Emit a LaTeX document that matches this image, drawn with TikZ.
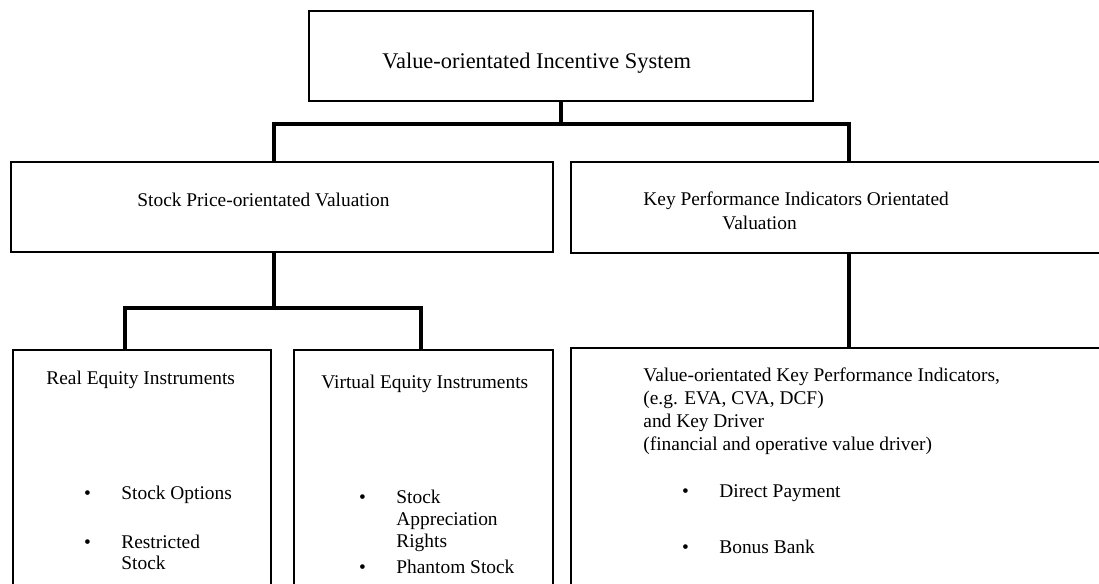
\documentclass[tikz,border=0pt]{standalone}
\usepackage{fontspec}
\setmainfont{Liberation Serif}
\usetikzlibrary{fit}
\newcommand{\bul}{\makebox[18.7pt][l]{\textbullet}}

\begin{document}
\begin{tikzpicture}[x=0.5pt,y=0.5pt]
  \tikzstyle{every node}+=[inner sep=0pt]
  \tikzstyle{box}=[draw=black, line width=0.8pt]
  \tikzstyle{conn}=[black, line width=1.6pt]
  \tikzstyle{txt}=[anchor=west, align=left, font=\fontsize{9.7}{11.5}\selectfont]
  \clip (0,0) rectangle (1099,-584);
  \node [box, fit={(309,-11) (813,-101)}] (vis) {};
  \node [txt, font=\fontsize{11.2}{13}\selectfont] (vistext) at (382,-63) {Value-orientated Incentive System};
  \node [box, fit={(11,-162) (553,-252)}] (spv) {};
  \node [txt] (spvtext) at (137,-200) {Stock Price-orientated Valuation};
  \node [box, fit={(571,-162) (1115,-253)}] (kpi) {};
  \node [txt, font=\fontsize{9.7}{12}\selectfont] (kpitext) at (643,-211) {Key Performance Indicators Orientated\\\hspace*{39.5pt}Valuation};
  \node [box, fit={(13,-350) (271,-600)}] (real) {};
  \node [txt] (realtext) at (46,-380) {Real Equity Instruments};
  \node [box, fit={(294,-350) (553,-600)}] (virt) {};
  \node [txt] (virttext) at (321,-384) {Virtual Equity Instruments};
  \node [box, fit={(571,-348) (1115,-600)}] (kval) {};
  \node [txt] (kvaltext) at (643,-411.5) {Value-orientated Key Performance Indicators,\\(e.g. EVA, CVA, DCF)\\and Key Driver\\(financial and operative value driver)};
  \node [txt] (so) at (83.6,-495) {\bul Stock Options};
  \node [txt, font=\fontsize{9.7}{10.7}\selectfont] (rs) at (83.6,-552.5) {\bul Restricted\\\hspace*{18.7pt}Stock};
  \node [txt, font=\fontsize{9.7}{11}\selectfont] (sar) at (358.6,-521) {\bul Stock\\\hspace*{18.7pt}Appreciation\\\hspace*{18.7pt}Rights};
  \node [txt] (ps) at (358.6,-567) {\bul Phantom Stock};
  \node [txt] (dp) at (681.6,-493) {\bul Direct Payment};
  \node [txt] (bb) at (681.6,-547) {\bul Bonus Bank};
  \coordinate (bl) at (274,-124);
  \coordinate (br) at (849,-124);
  \coordinate (cl) at (125,-308);
  \coordinate (cr) at (421,-308);
  \draw [conn] (vis.south) -- (vis.south |- bl);
  \draw [conn] (spv.north -| bl) -- (bl) -- (br) -- (kpi.north -| br);
  \draw [conn] (spv.south -| bl) -- (bl |- cl);
  \draw [conn] (real.north -| cl) -- (cl) -- (cr) -- (virt.north -| cr);
  \draw [conn] (kpi.south -| br) -- (kval.north -| br);
\end{tikzpicture}
\end{document}
